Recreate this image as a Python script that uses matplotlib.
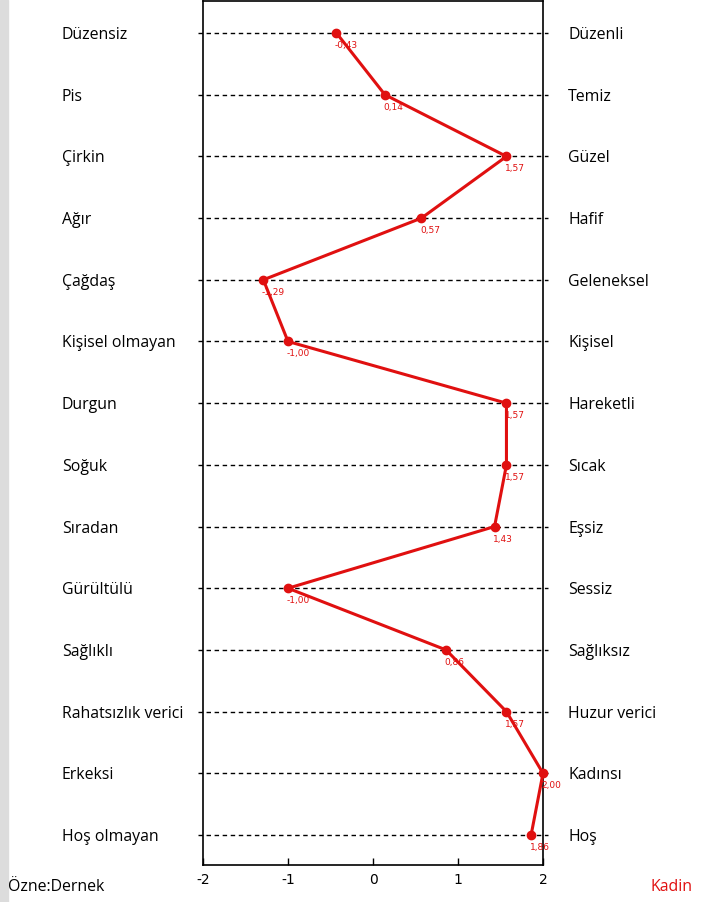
import matplotlib
matplotlib.use("Agg")
import matplotlib.pyplot as plt
from matplotlib.patches import Rectangle

left_labels = ["Düzensiz", "Pis", "Çirkin", "Ağır", "Çağdaş", "Kişisel olmayan", "Durgun",
               "Soğuk", "Sıradan", "Gürültülü", "Sağlıklı", "Rahatsızlık verici", "Erkeksi", "Hoş olmayan"]
right_labels = ["Düzenli", "Temiz", "Güzel", "Hafif", "Geleneksel", "Kişisel", "Hareketli",
                "Sıcak", "Eşsiz", "Sessiz", "Sağlıksız", "Huzur verici", "Kadınsı", "Hoş"]
values = [-0.43, 0.14, 1.57, 0.57, -1.29, -1.00, 1.57, 1.57, 1.43, -1.00, 0.86, 1.57, 2.00, 1.86]
xticks = [-2, -1, 0, 1, 2]

W, H = 710, 902
fig = plt.figure(figsize=(W/100, H/100), dpi=100)
fig.patches.append(Rectangle((0, 0), 8/W, 1, transform=fig.transFigure, color="#dcdcdc", zorder=0))

ax = fig.add_axes([203/W, 1-865/H, (543-203)/W, (865-1)/H])
n = len(values)
ys = list(range(n))
ax.set_xlim(-2, 2)
ax.set_ylim(13.486, -0.519)

red = "#e01010"
for y in ys:
    ax.plot([-2.06, 2.06], [y, y], ls=(0, (3.2, 2.6)), color="black", lw=1, clip_on=False, zorder=1)
ax.plot(values, ys, color=red, lw=2.2, marker="o", ms=6, zorder=3, clip_on=False)
for v, y in zip(values, ys):
    ax.annotate(f"{v:.2f}".replace(".", ","), (v, y), xytext=(-1, -9), textcoords="offset points",
                fontsize=6.5, color=red, ha="left", va="center", zorder=4)

lab_font = dict(fontsize=11.4, family=["Open Sans", "DejaVu Sans"])
trans_left = matplotlib.transforms.blended_transform_factory(fig.transFigure, ax.transData)
for y, lab in zip(ys, left_labels):
    fig.text(62/W, y, lab, ha="left", va="center_baseline", transform=trans_left, **lab_font)
for y, lab in zip(ys, right_labels):
    fig.text(568/W, y, lab, ha="left", va="center_baseline", transform=trans_left, **lab_font)

ax.set_yticks([])
ax.set_xticks(xticks)
ax.set_xticklabels([str(t) for t in xticks], fontsize=10)
ax.tick_params(axis="x", direction="in", length=5, width=1, pad=6)
for s in ax.spines.values():
    s.set_linewidth(1.2)
    s.set_color("black")

fig.text(8/W, 1-887/H, "Özne:Dernek", ha="left", va="center", **lab_font)
fig.text(693/W, 1-887/H, "Kadin", ha="right", va="center", color=red, **lab_font)

fig.savefig("out.png", dpi=100)
